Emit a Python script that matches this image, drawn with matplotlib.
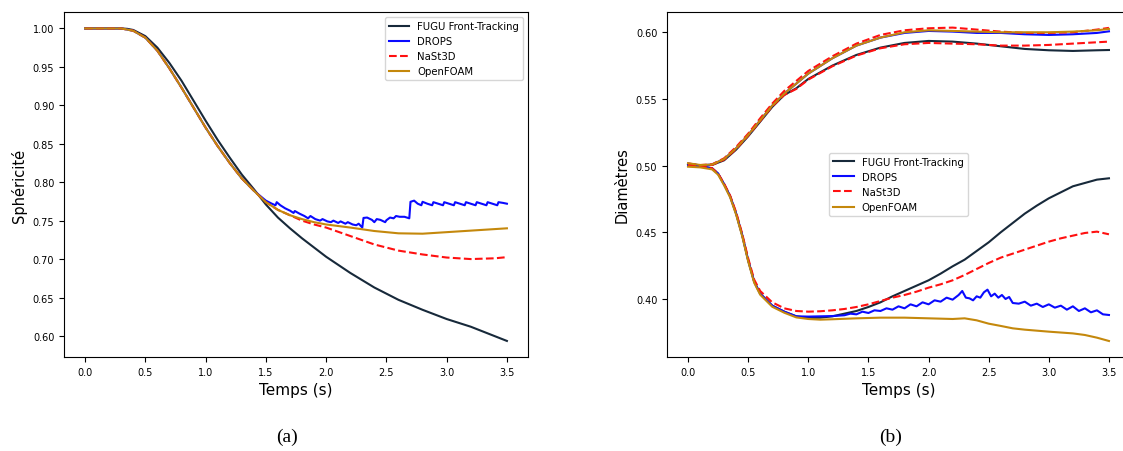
import matplotlib
matplotlib.use("Agg")
import matplotlib.pyplot as plt
import numpy as np

# ---------------- data: panel (a) sphericity ----------------
t_fugu_a = [0, 0.3, 0.35, 0.4, 0.5, 0.6, 0.7, 0.8, 0.9, 1.0, 1.1, 1.2, 1.3, 1.4, 1.5, 1.6, 1.7,
            1.8, 2.0, 2.2, 2.4, 2.6, 2.8, 3.0, 3.2, 3.5]
v_fugu_a = [1.0, 1.0, 0.9995, 0.998, 0.990, 0.975, 0.955, 0.932, 0.906, 0.880, 0.855, 0.832,
            0.810, 0.791, 0.771, 0.754, 0.740, 0.727, 0.703, 0.682, 0.663, 0.647, 0.634, 0.622,
            0.612, 0.5935]

t_base_a = [0, 0.3, 0.4, 0.5, 0.6, 0.7, 0.8, 0.9, 1.0, 1.1, 1.2, 1.3, 1.4, 1.5]
v_base_a = [1.0, 1.0, 0.997, 0.988, 0.971, 0.948, 0.923, 0.897, 0.871, 0.847, 0.825, 0.805,
            0.789, 0.774]

t_of_a = t_base_a + [1.6, 1.7, 1.8, 1.9, 2.0, 2.2, 2.4, 2.6, 2.8, 3.0, 3.2, 3.5]
v_of_a = v_base_a + [0.764, 0.757, 0.752, 0.748, 0.745, 0.741, 0.7365, 0.7335, 0.733, 0.735,
                     0.737, 0.740]

t_na_a = t_base_a + [1.6, 1.7, 1.8, 1.9, 2.0, 2.2, 2.4, 2.6, 2.8, 3.0, 3.2, 3.4, 3.5]
v_na_a = v_base_a + [0.764, 0.757, 0.750, 0.745, 0.741, 0.730, 0.719, 0.711, 0.706, 0.702,
                     0.700, 0.701, 0.7025]

t_dr_a = t_base_a[:-1] + [1.50, 1.55, 1.58, 1.59, 1.62, 1.66, 1.70, 1.73, 1.74, 1.78, 1.82, 1.85,
                          1.87, 1.91, 1.95, 1.97, 2.01, 2.04, 2.06, 2.10, 2.12, 2.16, 2.18, 2.22,
                          2.25, 2.27, 2.30, 2.31, 2.34, 2.38, 2.40, 2.42, 2.45, 2.49, 2.50, 2.53,
                          2.56, 2.58, 2.61, 2.65, 2.69, 2.70, 2.73, 2.76, 2.79, 2.80, 2.84, 2.88,
                          2.89, 2.93, 2.97, 2.98, 3.02, 3.06, 3.07, 3.11, 3.15, 3.16, 3.20, 3.24,
                          3.25, 3.29, 3.33, 3.34, 3.38, 3.42, 3.43, 3.47, 3.50]
v_dr_a = v_base_a[:-1] + [0.776, 0.772, 0.770, 0.774, 0.770, 0.766, 0.763, 0.760, 0.7625, 0.759,
                          0.756, 0.753, 0.756, 0.752, 0.750, 0.752, 0.749, 0.748, 0.750, 0.747,
                          0.749, 0.746, 0.748, 0.745, 0.744, 0.746, 0.741, 0.7535, 0.754, 0.751,
                          0.748, 0.752, 0.751, 0.748, 0.7505, 0.754, 0.753, 0.756, 0.755, 0.755,
                          0.753, 0.7745, 0.776, 0.772, 0.770, 0.7745, 0.772, 0.770, 0.774, 0.772,
                          0.770, 0.774, 0.772, 0.770, 0.774, 0.772, 0.770, 0.774, 0.772, 0.770,
                          0.774, 0.772, 0.770, 0.774, 0.772, 0.770, 0.774, 0.773, 0.772]

# ---------------- data: panel (b) diameters ----------------
t_up = [0, 0.1, 0.2, 0.3, 0.4, 0.5, 0.6, 0.7, 0.8, 0.9, 1.0, 1.2, 1.4, 1.6, 1.8, 2.0, 2.2, 2.4,
        2.6, 2.8, 3.0, 3.2, 3.4, 3.5]
v_fugu_up = [0.5012, 0.5002, 0.5005, 0.504, 0.512, 0.522, 0.533, 0.544, 0.553, 0.558, 0.565,
             0.575, 0.583, 0.5885, 0.592, 0.5935, 0.593, 0.5915, 0.5895, 0.5875, 0.5865, 0.586,
             0.5865, 0.5867]
v_na_up1 = [0.5010, 0.5000, 0.5005, 0.5045, 0.5125, 0.5225, 0.5335, 0.5445, 0.553, 0.5575,
            0.5645, 0.5745, 0.5825, 0.588, 0.591, 0.592, 0.5915, 0.591, 0.590, 0.590, 0.5905,
            0.5915, 0.5925, 0.593]
v_dr_up = [0.5015, 0.5002, 0.5008, 0.505, 0.513, 0.523, 0.534, 0.545, 0.554, 0.5615, 0.569,
           0.5805, 0.590, 0.596, 0.5995, 0.601, 0.6005, 0.5995, 0.5995, 0.5985, 0.598, 0.5985,
           0.5995, 0.6007]
v_of_up = [0.5018, 0.5005, 0.5008, 0.505, 0.513, 0.523, 0.534, 0.545, 0.554, 0.5615, 0.569,
           0.5805, 0.590, 0.596, 0.600, 0.6015, 0.601, 0.6005, 0.600, 0.600, 0.600, 0.6005,
           0.6015, 0.6025]
v_na_up2 = [0.5016, 0.5004, 0.5010, 0.5055, 0.514, 0.524, 0.5355, 0.5465, 0.556, 0.5635, 0.571,
            0.582, 0.5915, 0.598, 0.6015, 0.603, 0.6035, 0.602, 0.6005, 0.5995, 0.5995, 0.600,
            0.602, 0.6033]

t_low = [0, 0.1, 0.2, 0.25, 0.3, 0.35, 0.4, 0.45, 0.5, 0.55, 0.6, 0.7, 0.8, 0.9, 1.0]
v_low_base = [0.500, 0.4995, 0.498, 0.494, 0.486, 0.477, 0.464, 0.448, 0.429, 0.413, 0.404,
              0.395, 0.3905, 0.387, 0.3858]

t_fugu_low = t_low + [1.1, 1.2, 1.3, 1.4, 1.5, 1.6, 1.7, 1.8, 1.9, 2.0, 2.1, 2.2, 2.3, 2.4, 2.5,
                      2.6, 2.7, 2.8, 2.9, 3.0, 3.1, 3.2, 3.3, 3.4, 3.5]
v_fugu_low = v_low_base + [0.386, 0.387, 0.389, 0.391, 0.394, 0.3975, 0.402, 0.406, 0.410,
                           0.414, 0.419, 0.4245, 0.4295, 0.436, 0.4425, 0.450, 0.457, 0.464,
                           0.470, 0.4755, 0.480, 0.4845, 0.487, 0.4895, 0.4905]

t_na_low = [0, 0.1, 0.2, 0.25, 0.3, 0.35, 0.4, 0.45, 0.5, 0.55, 0.6, 0.7, 0.8, 0.9, 1.0, 1.1, 1.2,
            1.3, 1.4, 1.5, 1.6, 1.7, 1.8, 1.9, 2.0, 2.1, 2.2, 2.3, 2.4, 2.5, 2.6, 2.7, 2.8, 2.9,
            3.0, 3.1, 3.2, 3.3, 3.4, 3.5]
v_na_low = [0.500, 0.4995, 0.498, 0.494, 0.4865, 0.4775, 0.465, 0.449, 0.4305, 0.4145, 0.406,
            0.3975, 0.393, 0.391, 0.3905, 0.3908, 0.3915, 0.3925, 0.394, 0.396, 0.3985, 0.401,
            0.403, 0.4055, 0.4085, 0.411, 0.414, 0.418, 0.4225, 0.427, 0.431, 0.434, 0.437,
            0.440, 0.443, 0.4455, 0.4475, 0.4495, 0.4505, 0.4485]

t_dr_low = t_low + [1.1, 1.2, 1.3, 1.35, 1.4, 1.45, 1.5, 1.55, 1.6, 1.65, 1.7, 1.75, 1.8, 1.85,
                    1.9, 1.95, 2.0, 2.05, 2.1, 2.15, 2.2, 2.25, 2.28, 2.31, 2.34, 2.37, 2.40,
                    2.43, 2.46, 2.49, 2.52, 2.55, 2.58, 2.61, 2.64, 2.67, 2.70, 2.75, 2.80, 2.85,
                    2.90, 2.95, 3.0, 3.05, 3.1, 3.15, 3.2, 3.25, 3.3, 3.35, 3.4, 3.45, 3.5]
v_dr_low = v_low_base[:-1] + [0.3868] + [0.387, 0.3872, 0.3878, 0.389, 0.3885, 0.3905, 0.3895,
                                         0.3915, 0.391, 0.393, 0.392, 0.3945, 0.393, 0.396,
                                         0.3945, 0.3975, 0.396, 0.399, 0.398, 0.401, 0.3995,
                                         0.403, 0.406, 0.401, 0.4005, 0.399, 0.402, 0.401,
                                         0.405, 0.407, 0.402, 0.404, 0.401, 0.403, 0.400,
                                         0.4015, 0.397, 0.3965, 0.398, 0.395, 0.3965, 0.394,
                                         0.396, 0.3935, 0.395, 0.392, 0.3945, 0.391, 0.393,
                                         0.390, 0.3915, 0.3885, 0.388]

t_of_low = t_low + [1.1, 1.2, 1.4, 1.6, 1.8, 2.0, 2.2, 2.3, 2.4, 2.5, 2.6, 2.7, 2.8, 3.0, 3.2,
                    3.3, 3.4, 3.5]
v_of_low = [x - 0.0008 for x in v_low_base] + [0.3845, 0.3848, 0.3855, 0.386, 0.386, 0.3855,
                                                0.385, 0.3855, 0.384, 0.3815, 0.3798, 0.378,
                                                0.377, 0.3755, 0.3742, 0.373, 0.371, 0.3685]

labels = ["FUGU Front-Tracking", "DROPS", "NaSt3D", "OpenFOAM"]
colors = ["#17293a", "#0a0aff", "#ff1010", "#c4880c"]

# ---------------- figure ----------------
plt.rcParams['font.family'] = ['DejaVu Sans']
fig = plt.figure(figsize=(11.23, 4.52), dpi=100)
ax_a = fig.add_axes([64 / 1123, 94 / 452, 464 / 1123, 345 / 452])
ax_b = fig.add_axes([667 / 1123, 94 / 452, 463 / 1123, 345 / 452])

lw = 1.5
ax_a.plot(t_fugu_a, v_fugu_a, color=colors[0], lw=lw, label=labels[0])
ax_a.plot(t_dr_a, v_dr_a, color=colors[1], lw=lw, label=labels[1])
ax_a.plot(t_na_a, v_na_a, color=colors[2], lw=lw, ls='--', label=labels[2])
ax_a.plot(t_of_a, v_of_a, color=colors[3], lw=lw, label=labels[3])

ax_b.plot(t_up, v_fugu_up, color=colors[0], lw=lw, label=labels[0])
ax_b.plot(t_fugu_low, v_fugu_low, color=colors[0], lw=lw)
ax_b.plot(t_up, v_dr_up, color=colors[1], lw=lw, label=labels[1])
ax_b.plot(t_dr_low, v_dr_low, color=colors[1], lw=lw)
ax_b.plot(t_up, v_na_up1, color=colors[2], lw=lw, ls='--', label=labels[2])
ax_b.plot(t_up, v_na_up2, color=colors[2], lw=lw, ls='--')
ax_b.plot(t_na_low, v_na_low, color=colors[2], lw=lw, ls='--')
ax_b.plot(t_up, v_of_up, color=colors[3], lw=lw, label=labels[3])
ax_b.plot(t_of_low, v_of_low, color=colors[3], lw=lw)

xt = [0.0, 0.5, 1.0, 1.5, 2.0, 2.5, 3.0, 3.5]
for ax in (ax_a, ax_b):
    ax.set_xlim(-0.175, 3.675)
    ax.set_xticks(xt)
    ax.set_xticklabels([f"{v:.1f}" for v in xt])
    ax.tick_params(labelsize=7)
    ax.set_xlabel("Temps (s)", fontsize=11)

ya = [0.60, 0.65, 0.70, 0.75, 0.80, 0.85, 0.90, 0.95, 1.00]
ax_a.set_ylim(0.5726, 1.0214)
ax_a.set_yticks(ya)
ax_a.set_yticklabels([f"{v:.2f}" for v in ya])
ax_a.set_ylabel("Sphéricité", fontsize=10.5)

yb = [0.40, 0.45, 0.50, 0.55, 0.60]
ax_b.set_ylim(0.3565, 0.6152)
ax_b.set_yticks(yb)
ax_b.set_yticklabels([f"{v:.2f}" for v in yb])
ax_b.set_ylabel("Diamètres", fontsize=10.5)

ax_a.legend(loc='upper right', fontsize=7.3)
ax_b.legend(loc='center', fontsize=7.3)

fig.text(287 / 1123, 1 - 437 / 452, "(a)", ha='center', va='center',
         family='Liberation Serif', fontsize=14)
fig.text(891 / 1123, 1 - 437 / 452, "(b)", ha='center', va='center',
         family='Liberation Serif', fontsize=14)

fig.savefig("out.png", dpi=100)
